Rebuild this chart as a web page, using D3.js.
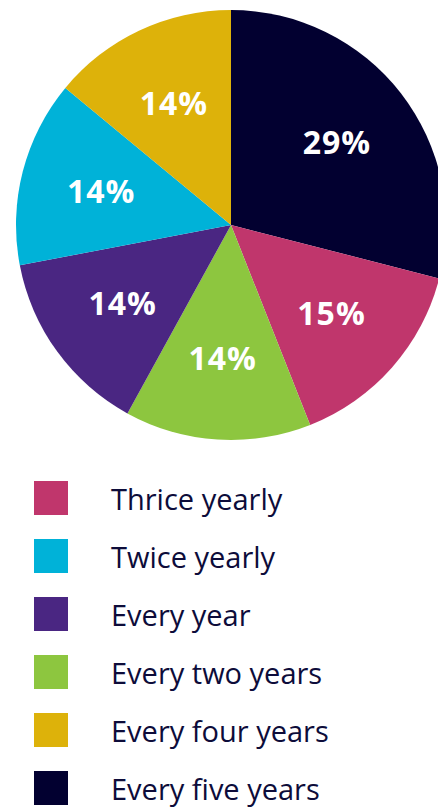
<!DOCTYPE html>
<html>
<head>
<meta charset="utf-8">
<script src="https://cdn.jsdelivr.net/npm/d3@7"></script>
<style>
  html, body { margin: 0; padding: 0; background: #ffffff; overflow: hidden; }
  svg { display: block; }
</style>
</head>
<body>
<svg id="chart" width="438" height="807"></svg>
<script>
// Legend order of the frequency categories
const categories = ["Thrice yearly", "Twice yearly", "Every year", "Every two years", "Every four years", "Every five years"];
const shares     = [15, 14, 14, 14, 14, 29];
const colors     = ["#c0366c", "#00b2d8", "#4a2682", "#8dc63f", "#ddb20a", "#020030"];
// Order of slices clockwise from 12 o'clock
const sliceOrder = ["Every five years", "Thrice yearly", "Every two years", "Every year", "Twice yearly", "Every four years"];

const svg = d3.select("#chart");

const color = d3.scaleOrdinal().domain(categories).range(colors);
const share = new Map(categories.map((c, i) => [c, shares[i]]));

const cx = 231, cy = 225, R = 215;

const pie = d3.pie().sort(null).value(d => share.get(d));
const arcs = pie(sliceOrder);
const arc = d3.arc().innerRadius(0).outerRadius(R);
const labelArc = d3.arc().innerRadius(134).outerRadius(134);

const g = svg.append("g").attr("transform", `translate(${cx},${cy})`);

g.selectAll("path.slice")
  .data(arcs)
  .join("path")
  .attr("class", "slice")
  .attr("d", arc)
  .attr("fill", d => color(d.data));

g.selectAll("text.pct")
  .data(arcs)
  .join("text")
  .attr("class", "pct")
  .attr("transform", d => `translate(${labelArc.centroid(d)})`)
  .attr("text-anchor", "middle")
  .attr("dy", "0.36em")
  .attr("fill", "#ffffff")
  .attr("font-family", "'Open Sans', sans-serif")
  .attr("font-weight", 700)
  .attr("font-size", 32)
  .attr("letter-spacing", 1)
  .text(d => share.get(d.data) + "%");

// Legend
const y = d3.scaleBand().domain(categories).range([469, 817]).paddingInner(0);
const legend = svg.append("g");
const rows = legend.selectAll("g.row")
  .data(categories)
  .join("g")
  .attr("class", "row")
  .attr("transform", d => `translate(0,${y(d) + y.bandwidth() / 2})`);

rows.append("rect")
  .attr("x", 34).attr("y", -17)
  .attr("width", 34).attr("height", 34)
  .attr("fill", d => color(d));

rows.append("text")
  .attr("x", 111)
  .attr("y", 12)
  .attr("fill", "#0d0c3a")
  .attr("font-family", "'Open Sans', sans-serif")
  .attr("font-size", 29)
  .text(d => d);
</script>
</body>
</html>
